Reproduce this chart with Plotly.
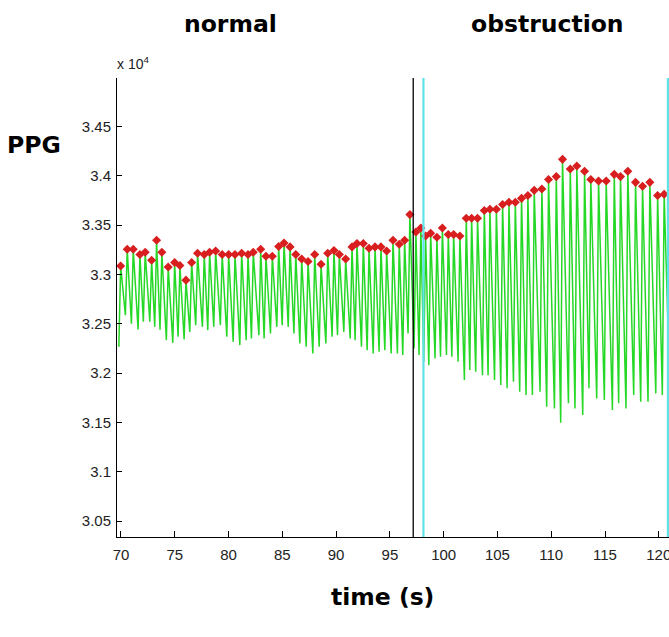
import plotly.graph_objects as go

# ---------------- data ----------------
peak_t = [69.97, 70.58, 71.14, 71.76, 72.25, 72.85, 73.31, 73.80, 74.39, 74.99,
          75.48, 76.04, 76.57, 77.12, 77.74, 78.24, 78.80, 79.41, 80.01, 80.60,
          81.22, 81.81, 82.30, 82.99, 83.48, 84.07, 84.66, 85.16, 85.72, 86.25,
          86.80, 87.39, 88.01, 88.60, 89.22, 89.80, 90.30, 90.89, 91.48, 91.94,
          92.53, 93.06, 93.62, 94.17, 94.70, 95.29, 95.87, 96.37, 96.86, 97.42,
          97.88, 98.32, 98.79, 99.37, 99.88, 100.43, 100.93, 101.51, 102.10, 102.60,
          103.15, 103.78, 104.30, 104.90, 105.48, 106.07, 106.66, 107.24, 107.83, 108.42,
          109.13, 109.75, 110.47, 111.05, 111.77, 112.38, 113.10, 113.68, 114.40, 115.11,
          115.86, 116.44, 117.12, 117.84, 118.49, 119.17, 119.89, 120.50]

peak_v = [33086, 33255, 33255, 33202, 33225, 33144, 33346, 33225, 33076, 33121,
          33090, 32942, 33121, 33215, 33202, 33225, 33238, 33202, 33202, 33202,
          33215, 33202, 33225, 33255, 33184, 33184, 33283, 33319, 33279, 33202,
          33157, 33131, 33202, 33103, 33215, 33242, 33202, 33157, 33279, 33313,
          33313, 33265, 33279, 33279, 33238, 33346, 33306, 33346, 33606, 33430,
          33471, 33390, 33417, 33377, 33471, 33404, 33404, 33390, 33569, 33569,
          33569, 33647, 33660, 33660, 33708, 33731, 33731, 33771, 33799, 33852,
          33865, 33961, 33991, 34166, 34068, 34098, 34045, 33961, 33946, 33946,
          34014, 33991, 34045, 33933, 33893, 33933, 33799, 33812]

# trough (foot of the pulse) before each peak
trough_v = [32266, 32587, 32500, 32443, 32520, 32520, 32469, 32440, 32334, 32307,
            32368, 32341, 32418, 32486, 32469, 32436, 32469, 32486, 32368, 32317,
            32284, 32334, 32352, 32385, 32352, 32402, 32469, 32486, 32469, 32402,
            32301, 32267, 32199, 32267, 32301, 32368, 32385, 32418, 32352, 32334,
            32267, 32233, 32199, 32216, 32233, 32199, 32199, 32183, 32402, 32250,
            32183, 32115, 32081, 32149, 32166, 32183, 32166, 32115, 31930, 32031,
            32014, 31980, 31980, 31930, 31879, 31846, 31912, 31811, 31778, 31778,
            31811, 31659, 31643, 31497, 31694, 31643, 31575, 31846, 31744, 31727,
            31626, 31694, 31643, 31778, 31710, 31710, 31795, 31778]
end_t, end_v = 121.05, 31760   # trailing foot after last visible peak

event_t = [97.17, 98.12, 120.85]
event_colors = ["#000000", "#5fe3ea", "#5fe3ea"]

x_ticks = [70, 75, 80, 85, 90, 95, 100, 105, 110, 115, 120]
y_ticks = [30500, 31000, 31500, 32000, 32500, 33000, 33500, 34000, 34500]
y_tick_text = ["3.05", "3.1", "3.15", "3.2", "3.25", "3.3", "3.35", "3.4", "3.45"]

segment_labels = ["normal", "obstruction"]

# ---------------- waveform through the read key points ----------------
UP = 0.17        # upstroke duration (s)
wave_t, wave_v = [], []
n = len(peak_t)
for i in range(n):
    wave_t += [peak_t[i] - UP, peak_t[i]]
    wave_v += [trough_v[i], peak_v[i]]
wave_t.append(end_t)
wave_v.append(end_v)

# ---------------- figure ----------------
W, H = 669, 637
ML, MR, MT, MB = 117, 0, 78, 100
PW, PH = W - ML - MR, H - MT - MB


def px(x):          # page pixel -> paper x
    return (x - ML) / PW


def py(y):          # page pixel -> paper y
    return (H - MB - y) / PH


fig = go.Figure()
fig.add_trace(go.Scatter(x=wave_t, y=wave_v, mode="lines",
                         line=dict(color="#26d826", width=1.5),
                         hoverinfo="skip", showlegend=False))
fig.add_trace(go.Scatter(x=peak_t, y=peak_v, mode="markers",
                         marker=dict(symbol="diamond", size=7, color="#d81e1e"),
                         showlegend=False))

for t, c in zip(event_t, event_colors):
    fig.add_shape(type="line", xref="x", yref="paper", x0=t, x1=t, y0=0, y1=1,
                  line=dict(color=c, width=1.3 if c == "#000000" else 2.2),
                  layer="above")

tickfont = dict(family="Liberation Sans", size=15, color="#222222")
bold = dict(family="DejaVu Sans", size=23.5, color="#000000")

fig.update_layout(
    width=W, height=H,
    margin=dict(l=ML, r=MR, t=MT, b=MB, autoexpand=False),
    paper_bgcolor="white", plot_bgcolor="white",
    xaxis=dict(range=[69.63, 120.95], tickvals=x_ticks, ticks="inside", ticklen=6,
               tickcolor="black", showline=True, linecolor="black", linewidth=1,
               showgrid=False, zeroline=False, tickfont=tickfont,
               ticklabelstandoff=4, automargin=False, ticklabeloverflow="allow"),
    yaxis=dict(range=[30340, 34990], tickvals=y_ticks, ticktext=y_tick_text,
               ticks="inside", ticklen=5, tickcolor="black", showline=True,
               linecolor="black", linewidth=1, showgrid=False, zeroline=False,
               tickfont=tickfont, ticklabelstandoff=2, automargin=False,
               ticklabeloverflow="allow"),
)

annots = [
    dict(text="<b>%s</b>" % segment_labels[0], x=px(230), y=py(24), font=bold),
    dict(text="<b>%s</b>" % segment_labels[1], x=px(547), y=py(24), font=bold),
    dict(text="<b>PPG</b>", x=px(34), y=py(145), font=bold),
    dict(text="<b>time (s)</b>", x=px(382), y=py(597), font=bold),
]
for a in annots:
    fig.add_annotation(xref="paper", yref="paper", showarrow=False,
                       xanchor="center", yanchor="middle", **a)
fig.add_annotation(xref="paper", yref="paper", showarrow=False,
                   x=px(115), y=py(63), xanchor="left", yanchor="middle",
                   text="x 10<sup>4</sup>",
                   font=dict(family="Liberation Sans", size=14, color="#222222"))

fig.write_html(
    "out.html",
    config={"displayModeBar": False},
    post_script="document.body.style.margin='0';document.body.style.overflow='hidden';",
)
